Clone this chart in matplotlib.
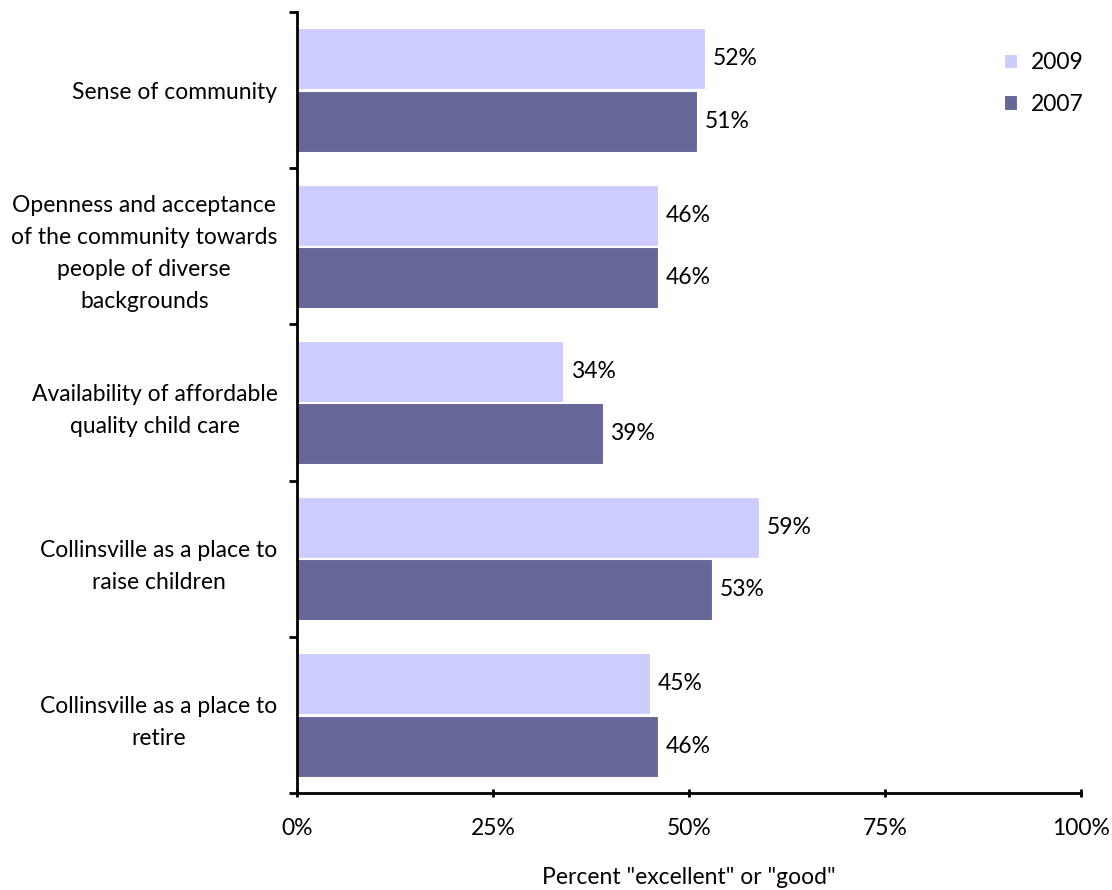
import matplotlib
matplotlib.use("Agg")
import matplotlib.pyplot as plt
import numpy as np

plt.rcParams['font.family'] = ['Lato', 'DejaVu Sans']

categories = [
    "Sense of community",
    "Openness and acceptance\nof the community towards\npeople of diverse\nbackgrounds",
    "Availability of affordable\nquality child care",
    "Collinsville as a place to\nraise children",
    "Collinsville as a place to\nretire",
]
values_2009 = [52, 46, 34, 59, 45]
values_2007 = [51, 46, 39, 53, 46]
x_ticks = [0, 25, 50, 75, 100]

color_2009 = "#CCCCFF"
color_2007 = "#666699"
fs = 16.5

fig = plt.figure(figsize=(11.12, 8.9), dpi=100)
ax = fig.add_axes([0.267, 0.109, 0.705, 0.8775])

pos = np.arange(len(categories))
h = 0.39
ax.barh(pos - 0.2, values_2009, height=h, color=color_2009, edgecolor="white",
        linewidth=0.8, label="2009")
ax.barh(pos + 0.2, values_2007, height=h, color=color_2007, edgecolor="white",
        linewidth=0.8, label="2007")

# value labels
for i, v in enumerate(values_2009):
    ax.text(v + 1.0, i - 0.2, "%d%%" % v, va="center", ha="left", fontsize=fs)
for i, v in enumerate(values_2007):
    ax.text(v + 1.0, i + 0.2, "%d%%" % v, va="center", ha="left", fontsize=fs)

ax.set_xlim(0, 100)
ax.set_ylim(len(categories) - 0.5, -0.5)
ax.set_xticks(x_ticks)
ax.set_xticklabels(["%d%%" % t for t in x_ticks], fontsize=fs)

# category labels centred, tick marks on the group boundaries
ax.set_yticks(pos)
ax.set_yticklabels(categories, fontsize=fs, linespacing=1.65, multialignment="center")
ax.tick_params(axis="y", which="major", length=0, pad=14)
ax.set_yticks(np.arange(len(categories) + 1) - 0.5, minor=True)
ax.tick_params(axis="y", which="minor", length=6, width=2, direction="out")
ax.tick_params(axis="x", length=6, width=2, direction="inout", pad=15)

for s in ["top", "right"]:
    ax.spines[s].set_visible(False)
ax.spines["left"].set_linewidth(2)
ax.spines["bottom"].set_linewidth(2)

ax.set_xlabel('Percent "excellent" or "good"', fontsize=fs, labelpad=20)

ax.legend(loc="upper right", bbox_to_anchor=(1.03, 0.975), frameon=False,
          fontsize=fs, handlelength=0.6, handleheight=0.6, handletextpad=0.6,
          labelspacing=0.9)

fig.savefig("out.png", dpi=100)
